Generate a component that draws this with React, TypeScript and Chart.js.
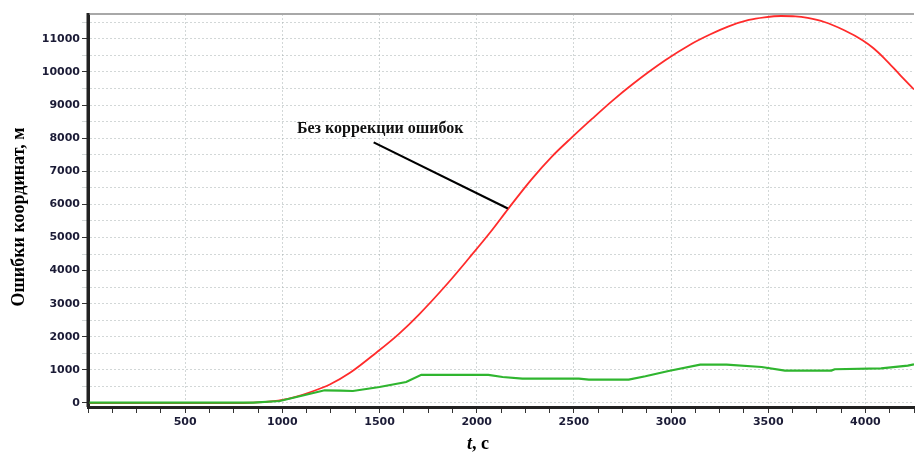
import React, { useEffect, useRef } from "react";
import { Chart, registerables } from "chart.js";

Chart.register(...registerables);

// ---- data (time in seconds, coordinate error in metres) ----
const redTime = [0, 800, 900, 1000, 1073, 1150, 1244, 1350, 1483, 1600, 1704, 1850, 1961, 2073, 2162, 2280, 2388, 2491, 2593, 2696, 2800, 2970, 3100, 3200, 3293, 3400, 3481, 3566, 3640, 3703, 3789, 3891, 3985, 4040, 4096, 4181, 4250];
const redError = [0, 0, 25, 95, 195, 340, 560, 920, 1520, 2090, 2680, 3610, 4380, 5180, 5865, 6740, 7450, 8030, 8580, 9120, 9620, 10350, 10830, 11130, 11370, 11570, 11650, 11690, 11680, 11630, 11508, 11260, 10960, 10725, 10420, 9890, 9470];

const greenTime = [0, 850, 987, 1100, 1218, 1300, 1363, 1500, 1637, 1715, 2060, 2133, 2235, 2526, 2577, 2782, 2868, 2987, 3150, 3286, 3466, 3586, 3825, 3842, 4081, 4218, 4250];
const greenError = [10, 10, 60, 220, 384, 375, 362, 483, 635, 850, 850, 786, 737, 737, 707, 707, 807, 967, 1160, 1160, 1088, 979, 979, 1020, 1048, 1130, 1170];

const xLabelValues = [500, 1000, 1500, 2000, 2500, 3000, 3500, 4000];
const yLabelValues = [0, 1000, 2000, 3000, 4000, 5000, 6000, 7000, 8000, 9000, 10000, 11000];
const yGridValues = [0, 500, 1000, 1500, 2000, 2500, 3000, 3500, 4000, 4500, 5000, 5500, 6000, 6500, 7000, 7500, 8000, 8500, 9000, 9500, 10000, 10500, 11000, 11500];

const annotationText = "Без коррекции ошибок";
const annotationTextAt = [1075, 8162];
const annotationLineFrom = [1470, 7872];
const annotationLineTo = [2160, 5877];

const yTitle = "Ошибки координат, м";
const xTitleItalic = "t";
const xTitleRest = ", с";

const overlay = {
  id: "overlay",
  afterDatasetsDraw(chart: any) {
    const { ctx, chartArea, scales } = chart;
    const x = scales.x;
    const y = scales.y;
    ctx.save();
    // top frame line
    ctx.strokeStyle = "#a8a8a8";
    ctx.lineWidth = 2;
    ctx.beginPath();
    ctx.moveTo(chartArea.left, chartArea.top);
    ctx.lineTo(chartArea.right, chartArea.top);
    ctx.stroke();
    // left axis over the frame
    ctx.strokeStyle = "#222";
    ctx.lineWidth = 3;
    ctx.beginPath();
    ctx.moveTo(chartArea.left, chartArea.top - 1);
    ctx.lineTo(chartArea.left, chartArea.bottom);
    ctx.stroke();

    // annotation
    ctx.strokeStyle = "#000";
    ctx.lineWidth = 2.2;
    ctx.beginPath();
    ctx.moveTo(x.getPixelForValue(annotationLineFrom[0]), y.getPixelForValue(annotationLineFrom[1]));
    ctx.lineTo(x.getPixelForValue(annotationLineTo[0]), y.getPixelForValue(annotationLineTo[1]));
    ctx.stroke();

    ctx.fillStyle = "#111";
    ctx.font = "bold 16px 'Liberation Serif', serif";
    ctx.textAlign = "left";
    ctx.textBaseline = "alphabetic";
    ctx.fillText(annotationText, x.getPixelForValue(annotationTextAt[0]), y.getPixelForValue(annotationTextAt[1]));
    ctx.restore();
  },
  afterDraw(chart: any) {
    const { ctx } = chart;
    ctx.save();
    ctx.fillStyle = "#000";
    // y title
    ctx.font = "bold 18px 'Liberation Serif', serif";
    ctx.translate(24, 217);
    ctx.rotate(-Math.PI / 2);
    ctx.textAlign = "center";
    ctx.textBaseline = "alphabetic";
    ctx.fillText(yTitle, 0, 0);
    ctx.restore();

    ctx.save();
    ctx.fillStyle = "#000";
    ctx.textBaseline = "alphabetic";
    ctx.textAlign = "left";
    ctx.font = "italic bold 18px 'Liberation Serif', serif";
    const w1 = ctx.measureText(xTitleItalic).width;
    ctx.font = "bold 18px 'Liberation Serif', serif";
    const w2 = ctx.measureText(xTitleRest).width;
    const startX = 478 - (w1 + w2) / 2;
    ctx.font = "italic bold 18px 'Liberation Serif', serif";
    ctx.fillText(xTitleItalic, startX, 449);
    ctx.font = "bold 18px 'Liberation Serif', serif";
    ctx.fillText(xTitleRest, startX + w1, 449);
    ctx.restore();
  },
};

const gridGray = "rgba(165,175,175,0.5)";
const tickFont = { family: "'DejaVu Sans', sans-serif", weight: "bold" as const, size: 11 };
const tickColor = "#1b1b36";

export default function App() {
  const ref = useRef<HTMLCanvasElement | null>(null);

  useEffect(() => {
    if (!ref.current) return;
    const chart = new Chart(ref.current, {
      type: "line",
      data: {
        datasets: [
          {
            label: "green",
            data: greenTime.map((t, i) => ({ x: t, y: greenError[i] })),
            borderColor: "#2fb52f",
            borderWidth: 2.2,
            pointRadius: 0,
            tension: 0,
            fill: false,
          },
          {
            label: "red",
            data: redTime.map((t, i) => ({ x: t, y: redError[i] })),
            borderColor: "#ff2b2b",
            borderWidth: 1.8,
            pointRadius: 0,
            cubicInterpolationMode: "monotone",
            fill: false,
          },
        ],
      },
      options: {
        responsive: false,
        animation: false,
        layout: { padding: { top: 14, left: 0, right: 0, bottom: 0 } },
        plugins: { legend: { display: false }, tooltip: { enabled: false }, title: { display: false } },
        scales: {
          x: {
            type: "linear",
            min: 0,
            max: 4250,
            afterFit: (s: any) => {
              s.height = 45;
            },
            ticks: {
              stepSize: 125,
              autoSkip: false,
              maxRotation: 0,
              padding: 3,
              font: tickFont,
              color: tickColor,
              callback: (v: any) => (xLabelValues.includes(Number(v)) ? String(v) : ""),
            },
            grid: {
              color: (c: any) => (c.tick && c.tick.value % 500 === 0 ? gridGray : "rgba(0,0,0,0)"),
              tickColor: "#333",
              tickLength: 6,
              lineWidth: 1,
            },
            border: { display: true, color: "#222", width: 3, dash: [2, 2] },
          },
          y: {
            type: "linear",
            min: -121,
            max: 11750,
            afterFit: (s: any) => {
              s.width = 88;
            },
            afterBuildTicks: (s: any) => {
              s.ticks = yGridValues.map((v) => ({ value: v }));
            },
            ticks: {
              autoSkip: false,
              padding: 2,
              font: tickFont,
              color: tickColor,
              callback: (v: any) => (yLabelValues.includes(Number(v)) ? String(v) : ""),
            },
            grid: {
              color: gridGray,
              tickColor: (c: any) => (c.tick && yLabelValues.includes(c.tick.value) ? "#333" : gridGray),
              tickLength: 6,
              lineWidth: 1,
            },
            border: { display: true, color: "#222", width: 3, dash: [2, 2] },
          },
        },
      },
      plugins: [overlay],
    });
    return () => chart.destroy();
  }, []);

  return (
    <div style={{ position: "absolute", left: 0, top: 0, width: 917, height: 452, background: "#fff" }}>
      <canvas ref={ref} width={917} height={452} />
    </div>
  );
}
